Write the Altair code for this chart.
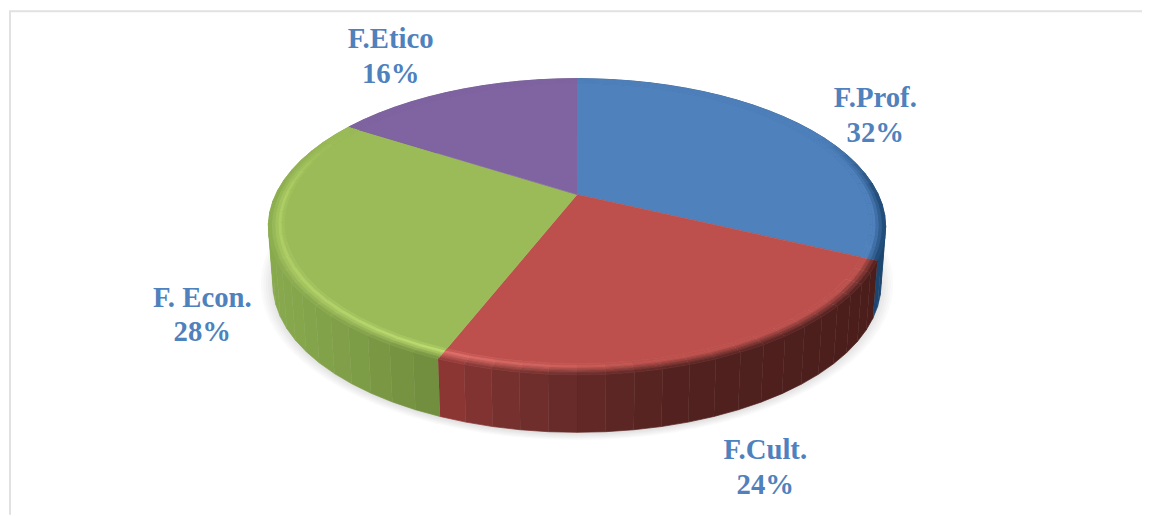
import math
import altair as alt
import pandas as pd

alt.data_transformers.disable_max_rows()

categories = ["F.Prof.", "F.Cult.", "F. Econ.", "F.Etico"]
values = [32, 24, 28, 16]
top_colors = ["#4f81bd", "#bd504c", "#9bbb59", "#8064a2"]
text_color = "#4f81bd"
label_x = [882, 771, 203, 393]
label_y = [96, 451, 297, 36]

# wall shade stops: (pixel x, colour) for each slice
wall_stops = [
    [(0, "#1c4670"), (1151, "#1c4670")],
    [(447, "#8f3735"), (500, "#78312e"), (600, "#602826"), (700, "#50211f"), (900, "#4a1d1b")],
    [(270, "#88aa4d"), (350, "#7f9e47"), (445, "#6f8b3d")],
    [(0, "#5f4a7a"), (1151, "#5f4a7a")],
]
highlights = ["#4f81bd", "#dd6c67", "#bcdc6e", "#8064a2"]

CX, CY, A, B, K = 581.0, 193.0, 142.4, 304.0, 0.217
DROP, SHRINK = 58.0, 0.985


def rgb(h):
    return [int(h[i:i + 2], 16) for i in (1, 3, 5)]


def mix(a, b, t):
    t = max(0.0, min(1.0, t))
    return "#%02x%02x%02x" % tuple(round(p + (q - p) * t) for p, q in zip(rgb(a), rgb(b)))


def shade(stops, x):
    if x <= stops[0][0]:
        return stops[0][1]
    for (x0, c0), (x1, c1) in zip(stops, stops[1:]):
        if x <= x1:
            return mix(c0, c1, (x - x0) / (x1 - x0))
    return stops[-1][1]


def rim(frac, r=1.0):
    t = 2 * math.pi * frac
    u, v = r * math.sin(t), r * math.cos(t)
    w = 1 + K * v
    return CX + B * u / w, CY - A * v / w


def base(frac):
    x, y = rim(frac)
    return CX + (x - CX) * SHRINK, y + DROP


rows = []
n = [0]


def poly(points, colour):
    n[0] += 1
    for i, (x, y) in enumerate(points):
        rows.append({"poly": n[0], "i": i, "X": x, "Y": y, "c": colour})


edges = [0]
for v in values:
    edges.append(edges[-1] + v / sum(values))

R0 = 0.95
BANDS = [0.95, 0.96, 0.97, 0.98, 0.99, 1.0]
STEP = 0.012

# walls
for s in range(4):
    a, b = edges[s], edges[s + 1]
    m = max(2, round((b - a) / STEP))
    for j in range(m):
        f0, f1 = a + (b - a) * j / m, a + (b - a) * (j + 1) / m
        xm = rim((f0 + f1) / 2)[0]
        poly([rim(f0), rim(f1), base(f1), base(f0)], shade(wall_stops[s], xm))
wall_df = pd.DataFrame(rows)
rows.clear()

# flat top faces and bevel
for s in range(4):
    a, b = edges[s], edges[s + 1]
    m = max(2, round((b - a) / STEP))
    pts = [(CX, CY)] + [rim(a + (b - a) * j / m, R0) for j in range(m + 1)]
    poly(pts, top_colors[s])
for s in range(4):
    a, b = edges[s], edges[s + 1]
    m = max(2, round((b - a) / STEP))
    for j in range(m):
        f0, f1 = a + (b - a) * j / m, a + (b - a) * (j + 1) / m
        fm = (f0 + f1) / 2
        xm, _ = rim(fm)
        vm = math.cos(2 * math.pi * fm)
        back = max(0.0, min(1.0, (0.45 - vm) / 0.45))
        if s == 1:
            h = (660 - xm) / 200
        elif s == 2:
            h = 0.55 + 0.45 * (xm - 270) / 170
        else:
            h = 0.0
        wall = shade(wall_stops[s], xm)
        hi = mix(top_colors[s], highlights[s], h)
        for r0, r1 in zip(BANDS, BANDS[1:]):
            t = ((r0 + r1) / 2 - R0) / (1 - R0)
            c = mix(top_colors[s], hi, t / 0.3) if t < 0.3 else mix(hi, wall, (t - 0.3) / 0.7)
            c = mix(top_colors[s], c, back)
            poly([rim(f0, r0), rim(f1, r0), rim(f1, r1), rim(f0, r1)], c)
top_df = pd.DataFrame(rows)
rows.clear()

# soft shadow under the disc
for q in range(9):
    scale = 1.04 - q * 0.008
    pts = []
    for j in range(100):
        x, y = base(j / 100)
        pts.append((CX + (x - CX) * scale, 285 + (y - 285) * (scale + 0.012)))
    poly(pts, "#808080")
shadow_df = pd.DataFrame(rows)

pct = [f"{v}%" for v in values]
label_df = pd.DataFrame(
    [{"t": c, "X": x, "Y": y} for c, x, y in zip(categories, label_x, label_y)]
    + [{"t": p, "X": x, "Y": y + 35} for p, x, y in zip(pct, label_x, label_y)]
)

xs = alt.Scale(domain=[8, 1151])
ys = alt.Scale(domain=[8, 516], reverse=True)
X = alt.X("X:Q", scale=xs, axis=None)
Y = alt.Y("Y:Q", scale=ys, axis=None)


def layer(df, **mark):
    return alt.Chart(df).mark_line(interpolate="linear", **mark).encode(
        x=X, y=Y, detail="poly:N", order="i:Q",
        fill=alt.Fill("c:N", scale=None),
        stroke=alt.Stroke("c:N", scale=None),
    )


frame_x = alt.Chart(pd.DataFrame({"a": [9], "b": [8], "c": [516]})).mark_rule(color="#e1e1e1", size=2).encode(
    x=alt.X("a:Q", scale=xs, axis=None), y=alt.Y("b:Q", scale=ys, axis=None), y2="c:Q")
frame_y = alt.Chart(pd.DataFrame({"a": [8], "b": [8], "c": [1151]})).mark_rule(color="#e1e1e1", size=2).encode(
    y=alt.Y("b:Q", scale=ys, axis=None), x=alt.X("a:Q", scale=xs, axis=None), x2="c:Q")

shadow = alt.Chart(shadow_df).mark_line(strokeWidth=0, opacity=0.045).encode(
    x=X, y=Y, detail="poly:N", order="i:Q", fill=alt.Fill("c:N", scale=None))

labels = alt.Chart(label_df).mark_text(
    font="Liberation Serif", fontWeight="bold", fontSize=29, color=text_color, baseline="middle"
).encode(x=X, y=Y, text="t:N")

chart = alt.layer(
    frame_x, frame_y, shadow, layer(wall_df, strokeWidth=0.7), layer(top_df, strokeWidth=0.7), labels
).properties(width=1143, height=508, padding=0, background="#ffffff").configure_view(stroke=None)

chart.save("out.html", embed_options={"renderer": "svg", "actions": False})
